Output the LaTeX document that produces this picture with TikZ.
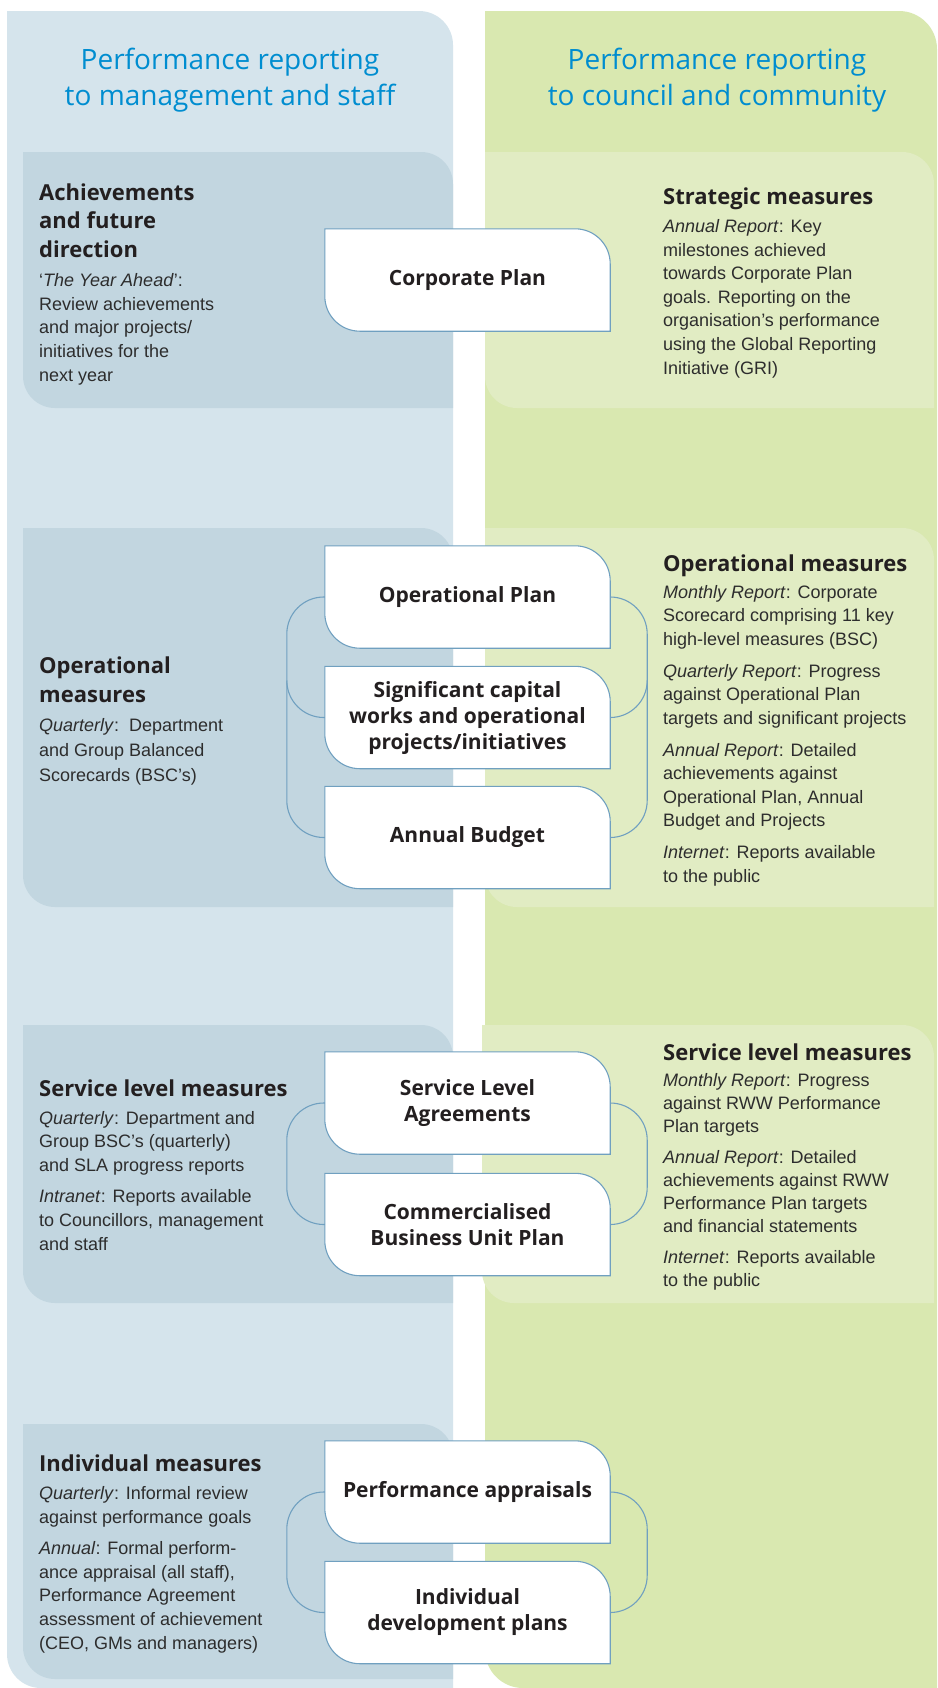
\documentclass[tikz,border=0pt]{standalone}
\usepackage{fontspec}
\setmainfont{Liberation Sans}
\newfontfamily\osans{Open Sans}

\definecolor{colL}{RGB}{213,228,236}
\definecolor{panelL}{RGB}{194,214,224}
\definecolor{colR}{RGB}{217,232,176}
\definecolor{panelR}{RGB}{225,236,195}
\definecolor{titleblue}{RGB}{0,141,208}
\definecolor{headcol}{RGB}{35,31,32}
\definecolor{bodycol}{RGB}{45,45,45}
\definecolor{linecol}{RGB}{112,160,192}

\pgfdeclarelayer{background}
\pgfdeclarelayer{boxfill}
\pgfsetlayers{background,boxfill,main}

% leaf-shaped area: rounded top-right and bottom-left corners
% #1 colour, (#2,#3) top-left, (#4,#5) bottom-right, #6 radius
\newcommand{\leaf}[6]{%
  \fill[#1] (#2,#3) -- ({#4-#6},#3) arc[start angle=-90,end angle=0,radius=#6]
    -- (#4,#5) -- ({#2+#6},#5) arc[start angle=90,end angle=180,radius=#6] -- cycle;}

% white leaf outline behind a plan node
\newcommand{\planleaf}[1]{%
  \filldraw[fill=white,draw=linecol,line width=1.1bp]
    (#1.north west) -- ([xshift=-35bp]#1.north east)
    arc[start angle=90,end angle=0,radius=35bp]
    -- (#1.south east) -- ([xshift=35bp]#1.south west)
    arc[start angle=270,end angle=180,radius=35bp] -- cycle;}

% text blocks are placed by the baseline of their last line
\tikzset{
  coltitle/.style={font=\osans\fontsize{28bp}{36bp}\selectfont, text=titleblue, align=center, inner sep=0},
  head/.style={font=\osans\bfseries\fontsize{22bp}{28.5bp}\selectfont, text=headcol, align=left, inner sep=0, anchor=base west},
  body/.style={font=\fontsize{18bp}{23.6bp}\selectfont, text=bodycol, align=left, inner sep=0, anchor=base west},
  planbox/.style={font=\osans\bfseries\fontsize{21bp}{26bp}\selectfont, text=headcol, align=center, inner sep=0, minimum width=285bp, minimum height=102bp},
  bracket/.style={draw=linecol, line width=1.1bp, rounded corners=37bp},
}

\begin{document}
\begin{tikzpicture}[x=1bp,y=-1bp]
\useasboundingbox (0,0) rectangle (937,1688);

\begin{pgfonlayer}{background}
  \fill[white] (0,0) rectangle (937,1688);
  % two columns
  \leaf{colL}{7}{11}{453}{1688}{34}
  \leaf{colR}{485}{11}{937}{1688}{38}
  % panels, left column
  \leaf{panelL}{23}{152}{453}{408}{32}
  \leaf{panelL}{23}{528}{453}{907}{32}
  \leaf{panelL}{23}{1025}{453}{1303}{32}
  \leaf{panelL}{23}{1424}{453}{1679}{32}
  % panels, right column
  \leaf{panelR}{485}{152}{934}{408}{32}
  \leaf{panelR}{485}{528}{934}{907}{32}
  \leaf{panelR}{482}{1025}{934}{1303}{32}
\end{pgfonlayer}

% column titles
\node[coltitle] (tL) at (230,80) {Performance reporting\\to management and staff};
\node[coltitle] (tR) at (717,80) {Performance reporting\\to council and community};

% plan nodes
\node[planbox] (cp)  at (467.5,280)    {Corporate Plan};
\node[planbox] (op)  at (467.5,597)    {Operational Plan};
\node[planbox] (sig) at (467.5,717.5)  {Significant capital\\works and operational\\projects/initiatives};
\node[planbox] (bud) at (467.5,837.5)  {Annual Budget};
\node[planbox] (sla) at (467.5,1103)   {Service Level\\Agreements};
\node[planbox] (cbu) at (467.5,1224.5) {Commercialised\\Business Unit Plan};
\node[planbox] (pa)  at (467.5,1492)   {Performance appraisals};
\node[planbox] (idp) at (467.5,1612.5) {Individual\\development plans};

\begin{pgfonlayer}{boxfill}
  \planleaf{cp}\planleaf{op}\planleaf{sig}\planleaf{bud}
  \planleaf{sla}\planleaf{cbu}\planleaf{pa}\planleaf{idp}
\end{pgfonlayer}

% brackets joining the plans of a level
\draw[bracket] (op.west) -- ++(-38bp,0) |- (bud.west);
\draw[bracket] ([xshift=-38bp,yshift=37bp]sig.west) |- (sig.west);
\draw[bracket] (op.east) -- ++(37bp,0) |- (bud.east);
\draw[bracket] ([xshift=37bp,yshift=37bp]sig.east) |- (sig.east);
\draw[bracket] (sla.west) -- ++(-38bp,0) |- (cbu.west);
\draw[bracket] (sla.east) -- ++(37bp,0) |- (cbu.east);
\draw[bracket] (pa.west) -- ++(-38bp,0) |- (idp.west);
\draw[bracket] (pa.east) -- ++(37bp,0) |- (idp.east);

% level 1
\node[head] (h1L) at (39,257) {Achievements\\and future\\direction};
\node[body] (b1L) at (39,381) {‘\textit{The Year Ahead}’:\\Review achievements\\and major projects/\\initiatives for the\\next year};
\node[head] (h1R) at (663,204) {Strategic measures};
\node[body] (b1R) at (663,374) {\textit{Annual Report}: Key\\milestones achieved\\towards Corporate Plan\\goals. Reporting on the\\organisation’s performance\\using the Global Reporting\\Initiative (GRI)};

% level 2
\node[head] (h2L) at (39,702) {Operational\\measures};
\node[body,font=\fontsize{18bp}{25bp}\selectfont] (b2L) at (39,781) {\textit{Quarterly}:~~Department\\and Group Balanced\\Scorecards (BSC’s)};
\node[head] (h2R) at (663,571) {Operational measures};
\node[body,font=\fontsize{18bp}{23.5bp}\selectfont] (b2R) at (663,882) {\textit{Monthly Report}: Corporate\\Scorecard comprising 11 key\\high-level measures (BSC)\\[8.5bp]
  \textit{Quarterly Report}: Progress\\against Operational Plan\\targets and significant projects\\[8.5bp]
  \textit{Annual Report}: Detailed\\achievements against\\Operational Plan, Annual\\Budget and Projects\\[8.5bp]
  \textit{Internet}: Reports available\\to the public};

% level 3
\node[head] (h3L) at (39,1096) {Service level measures};
\node[body] (b3L) at (39,1250) {\textit{Quarterly}: Department and\\Group BSC’s (quarterly)\\and SLA progress reports\\[8bp]
  \textit{Intranet}: Reports available\\to Councillors, management\\and staff};
\node[head] (h3R) at (663,1060) {Service level measures};
\node[body,font=\fontsize{18bp}{23bp}\selectfont] (b3R) at (663,1286) {\textit{Monthly Report}: Progress\\against RWW Performance\\Plan targets\\[8bp]
  \textit{Annual Report}: Detailed\\achievements against RWW\\Performance Plan targets\\and financial statements\\[8bp]
  \textit{Internet}: Reports available\\to the public};

% level 4
\node[head] (h4L) at (39,1471) {Individual measures};
\node[body] (b4L) at (39,1649) {\textit{Quarterly}: Informal review\\against performance goals\\[8bp]
  \textit{Annual}: Formal perform-\\ance appraisal (all staff),\\Performance Agreement\\assessment of achievement\\(CEO, GMs and managers)};
\end{tikzpicture}
\end{document}
